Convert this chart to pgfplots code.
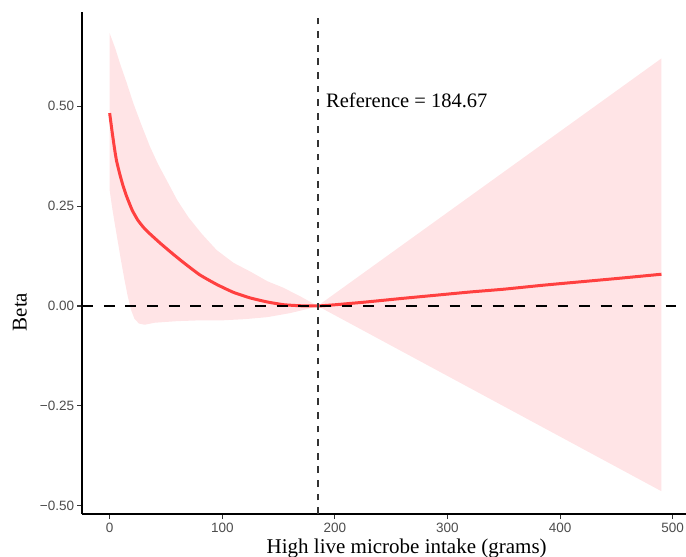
\documentclass[border=0pt]{standalone}
\usepackage{pgfplots}
\pgfplotsset{compat=1.18}
\usepackage{fontspec}
\setmainfont{Liberation Serif}
\newfontfamily\arialfont{Liberation Sans}
\definecolor{ribbon}{RGB}{255,228,230}
\definecolor{curve}{RGB}{255,64,64}
\definecolor{ticklab}{RGB}{77,77,77}
\definecolor{tickcol}{RGB}{51,51,51}
\begin{document}
\begin{tikzpicture}
\useasboundingbox (-82.3bp,-43bp) rectangle (603.7bp,514bp);
\begin{axis}[
  scale only axis,
  width=603.7bp, height=502.3bp,
  xmin=-24.3, xmax=511.8, ymin=-0.521, ymax=0.737,
  axis lines*=left,
  axis line style={line width=1.6bp, black},
  xtick={0,100,200,300,400,500},
  xticklabels={0,100,200,300,400,500},
  ytick={-0.5,-0.25,0,0.25,0.5},
  yticklabels={−0.50,−0.25,0.00,0.25,0.50},
  tick align=outside,
  major tick length=5bp,
  tick style={line width=1.2bp, color=tickcol},
  ticklabel style={font=\arialfont\fontsize{13.5bp}{16bp}\selectfont, text=ticklab},
  xticklabel style={inner sep=0pt, anchor=north, yshift=-3.5bp},
  yticklabel style={inner sep=0pt, anchor=east, xshift=-3bp},
]
\addplot[fill=ribbon, draw=none] coordinates {
(0,0.683) (5,0.645) (9.1,0.608) (15,0.56) (21,0.508) (28,0.455) (35.8,0.399)
(43,0.355) (50.6,0.315) (60,0.265) (70,0.222) (82,0.180) (95,0.140) (110,0.108)
(125,0.086) (140,0.062) (154,0.046) (170,0.023) (184.67,0) (490,0.620)
(490,-0.464) (184.67,0) (175,-0.008) (160,-0.018) (140,-0.028) (120,-0.033)
(100,-0.036) (80,-0.036) (60,-0.038) (40,-0.042) (31,-0.047) (26,-0.044)
(22,-0.032) (19,-0.010) (16,0.025) (13,0.068) (10,0.115) (7,0.165) (4,0.215) (2,0.25) (0,0.29)
} -- cycle;
\addplot[color=curve, line width=3bp, smooth, tension=0.3] coordinates {
(0,0.483) (2,0.44) (4,0.40) (6,0.365) (9,0.33) (12,0.30) (15,0.275) (20,0.240)
(25,0.215) (30,0.197) (36,0.180) (45,0.157) (55,0.133) (65,0.110) (80,0.078)
(95,0.054) (110,0.034) (125,0.020) (140,0.010) (155,0.003) (170,0.0005)
(184.67,0) (200,0.003) (228,0.010) (260,0.019) (290,0.027) (320,0.035)
(350,0.042) (385,0.052) (420,0.061) (455,0.070) (490,0.0795)
};
\addplot[color=tickcol, line width=1.8bp, dash pattern=on 6.8bp off 6.8bp] coordinates {(184.67,-0.521) (184.67,0.729)};
\addplot[color=black, line width=2.6bp, dash pattern=on 10.8bp off 10.8bp] coordinates {(-24.3,0) (511.8,0)};
\end{axis}
\node[anchor=base west, inner sep=0pt, font=\fontsize{20.5bp}{24bp}\selectfont] at (243.7bp,406.7bp) {Reference = 184.67};
\node[anchor=base, inner sep=0pt, font=\fontsize{21bp}{25bp}\selectfont] at (324.4bp,-39bp) {High live microbe intake (grams)};
\node[anchor=base, rotate=90, inner sep=0pt, font=\fontsize{21bp}{25bp}\selectfont] at (-55.6bp,202bp) {Beta};
\end{tikzpicture}
\end{document}
